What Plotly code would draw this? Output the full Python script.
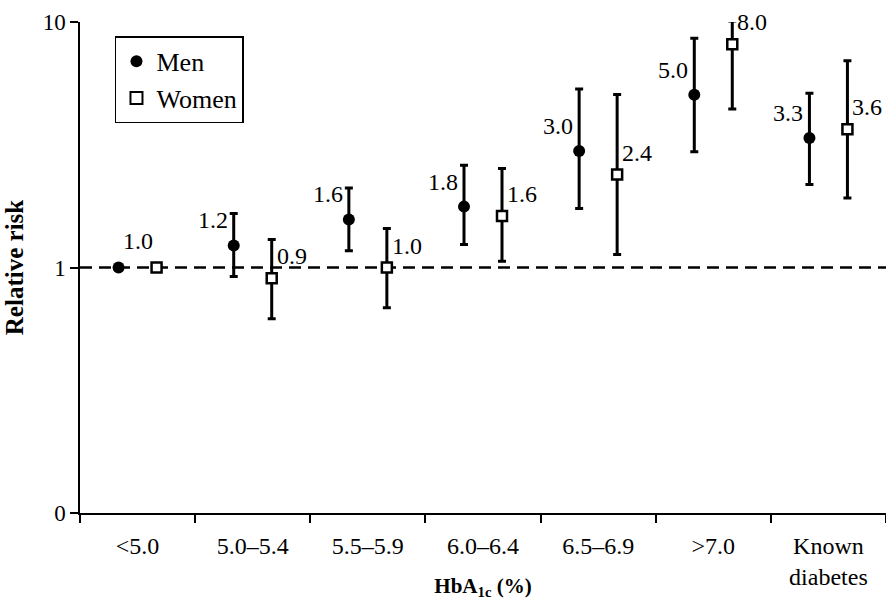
import numpy as np
import plotly.graph_objects as go

categories = ["<5.0", "5.0–5.4", "5.5–5.9", "6.0–6.4", "6.5–6.9", ">7.0", "Known<br>diabetes"]

men_rr = [1.0, 1.23, 1.57, 1.77, 2.98, 5.05, 3.37]
men_hi = [None, 1.66, 2.11, 2.61, 5.33, 8.58, 5.12]
men_lo = [None, 0.92, 1.17, 1.24, 1.74, 2.96, 2.18]
men_lbl = [None, "1.2", "1.6", "1.8", "3.0", "5.0", "3.3"]

women_rr = [1.0, 0.905, 1.0, 1.62, 2.39, 8.11, 3.66]
women_hi = [None, 1.30, 1.44, 2.53, 5.07, 10.1, 6.95]
women_lo = [None, 0.618, 0.685, 1.06, 1.13, 4.42, 1.92]
women_lbl = [None, "0.9", "1.0", "1.6", "2.4", "8.0", "3.6"]

ref_label = "1.0"
y_ticks = [0.1, 1, 10]
y_ticktext = ["0", "1", "10"]

FONT = "Liberation Serif"
idx = np.arange(len(categories))
off = 0.165


def errs(v, hi, lo):
    plus = [None if h is None else h - x for x, h in zip(v, hi)]
    minus = [None if l is None else x - l for x, l in zip(v, lo)]
    return plus, minus


mp, mm = errs(men_rr, men_hi, men_lo)
wp, wm = errs(women_rr, women_hi, women_lo)

fig = go.Figure()

fig.add_hline(y=1, line=dict(color="black", width=2.5, dash="12px,7px"), layer="below")

fig.add_trace(go.Scatter(
    x=idx - off, y=men_rr, mode="markers", name="Men",
    marker=dict(symbol="circle", size=12, color="black", line=dict(width=0)),
    error_y=dict(type="data", symmetric=False, array=mp, arrayminus=mm,
                 color="black", thickness=3, width=4),
    cliponaxis=False,
))
fig.add_trace(go.Scatter(
    x=idx + off, y=women_rr, mode="markers", name="Women",
    marker=dict(symbol="square", size=10, color="white", line=dict(width=2.5, color="black")),
    error_y=dict(type="data", symmetric=False, array=wp, arrayminus=wm,
                 color="black", thickness=3, width=4),
    cliponaxis=False,
))

LBL = dict(family=FONT, size=24, color="black")
anns = []
for i in range(len(categories)):
    if men_lbl[i]:
        anns.append(dict(x=idx[i] - off, y=np.log10(men_rr[i]), text=men_lbl[i], showarrow=False,
                         xanchor="right", yanchor="middle", xshift=-4, yshift=25, font=LBL))
    if women_lbl[i]:
        anns.append(dict(x=idx[i] + off, y=np.log10(women_rr[i]), text=women_lbl[i], showarrow=False,
                         xanchor="left", yanchor="middle", xshift=3, yshift=22, font=LBL))
anns.append(dict(x=idx[0], y=np.log10(1.0), text=ref_label, showarrow=False,
                 xanchor="center", yanchor="middle", yshift=27, font=LBL))

fig.update_layout(
    width=886, height=600,
    margin=dict(l=80, r=0, t=22, b=87, autoexpand=False),
    paper_bgcolor="white", plot_bgcolor="white",
    font=dict(family=FONT, size=22, color="black"),
    showlegend=True,
    legend=dict(x=0.0434, y=0.971, xanchor="left", yanchor="top",
                bordercolor="black", borderwidth=1.5, bgcolor="white",
                font=dict(family=FONT, size=26), itemsizing="constant",
                tracegroupgap=0),
    annotations=anns,
)

fig.update_xaxes(
    range=[-0.5, len(categories) - 0.5], automargin=False,
    tickvals=idx, ticktext=categories, ticks="outside", ticklen=10,
    tickcolor="rgba(0,0,0,0)", showgrid=False, zeroline=False,
    showline=True, linecolor="black", linewidth=1.5,
    tickfont=dict(family=FONT, size=24),
    minor=dict(tickvals=list(idx - 0.5) + [len(categories) - 0.5], ticks="outside",
               ticklen=8, tickwidth=1.5, tickcolor="black", showgrid=False),
    title=dict(text="<b>HbA<sub>1c</sub> (%)</b>", font=dict(family=FONT, size=21), standoff=4),
)

fig.update_yaxes(
    type="log", range=[-1, 1], automargin=False,
    tickvals=y_ticks, ticktext=y_ticktext, ticks="outside", ticklen=8, tickwidth=1.5,
    tickcolor="black", showgrid=False, zeroline=False,
    showline=True, linecolor="black", linewidth=1.5,
    tickfont=dict(family=FONT, size=23),
    title=dict(text="<b>Relative risk</b>", font=dict(family=FONT, size=25), standoff=12),
)

fig.write_html("out.html", config={"displayModeBar": False},
               post_script="document.body.style.margin='0';")
